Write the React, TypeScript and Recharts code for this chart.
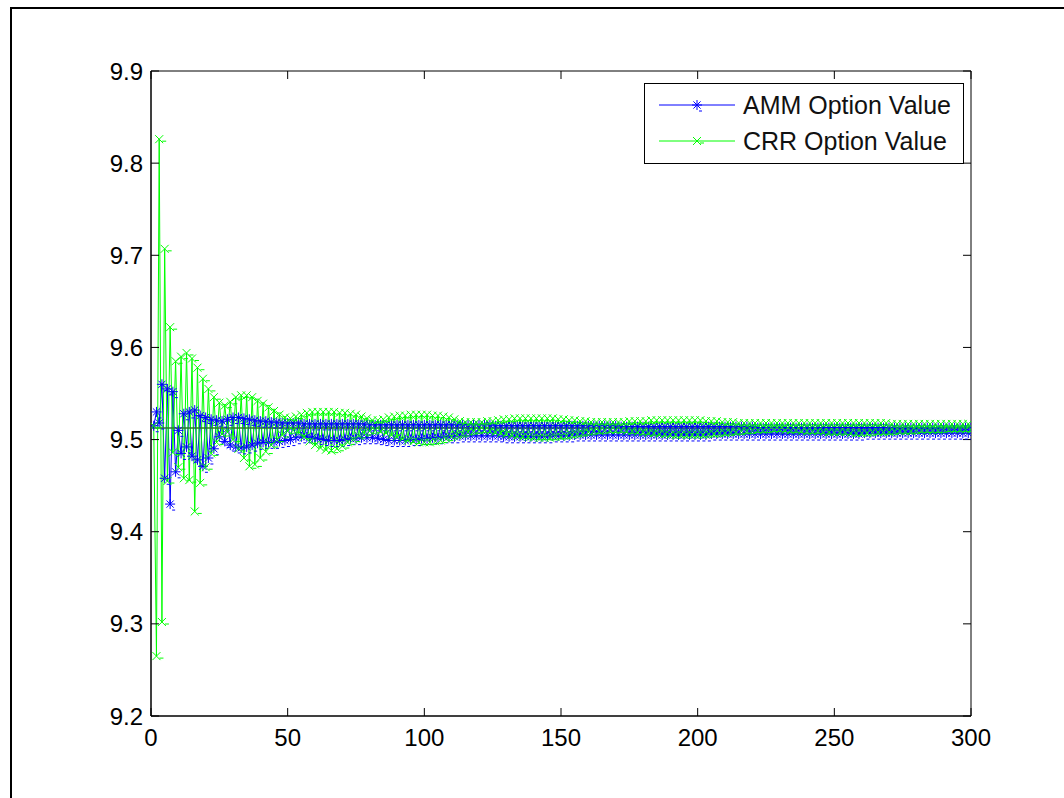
import React from 'react';
import { LineChart, Line, XAxis, YAxis, ReferenceLine } from 'recharts';

// Number of time steps n = 1..300
const steps: number[] = Array.from({ length: 300 }, (_, i) => i + 1);

// AMM option values
const ammValues: number[] = [
  9.515, 9.530, 9.518, 9.560, 9.458, 9.555, 9.430, 9.552, 9.465, 9.510,
  9.485, 9.528, 9.492, 9.530, 9.482, 9.532, 9.478, 9.526, 9.471, 9.524,
  9.480, 9.522, 9.490, 9.521, 9.503, 9.520, 9.498, 9.522, 9.494, 9.524,
  9.492, 9.524, 9.491, 9.523, 9.492, 9.522, 9.494, 9.521, 9.496, 9.520,
  9.497, 9.520, 9.497, 9.519, 9.497, 9.519, 9.498, 9.518, 9.499, 9.518,
  9.500, 9.518, 9.502, 9.518, 9.503, 9.517, 9.503, 9.517, 9.502, 9.517,
  9.501, 9.517, 9.500, 9.517, 9.499, 9.517, 9.499, 9.517, 9.499, 9.517,
  9.500, 9.517, 9.501, 9.517, 9.501, 9.517, 9.502, 9.517, 9.502, 9.516,
  9.502, 9.516, 9.501, 9.516, 9.500, 9.516, 9.499, 9.516, 9.499, 9.516,
  9.499, 9.516, 9.499, 9.516, 9.500, 9.516, 9.500, 9.516, 9.501, 9.516,
  9.501, 9.516, 9.502, 9.516, 9.502, 9.516, 9.503, 9.516, 9.503, 9.516,
  9.503, 9.516, 9.504, 9.516, 9.504, 9.516, 9.504, 9.516, 9.504, 9.516,
  9.504, 9.516, 9.504, 9.516, 9.504, 9.515, 9.504, 9.515, 9.503, 9.515,
  9.503, 9.515, 9.503, 9.515, 9.503, 9.515, 9.503, 9.515, 9.503, 9.515,
  9.503, 9.515, 9.503, 9.515, 9.503, 9.515, 9.504, 9.515, 9.504, 9.515,
  9.504, 9.515, 9.504, 9.515, 9.505, 9.515, 9.505, 9.515, 9.505, 9.515,
  9.505, 9.515, 9.505, 9.515, 9.505, 9.515, 9.505, 9.515, 9.505, 9.515,
  9.505, 9.514, 9.505, 9.514, 9.505, 9.514, 9.505, 9.514, 9.505, 9.514,
  9.505, 9.514, 9.505, 9.514, 9.505, 9.514, 9.505, 9.514, 9.505, 9.514,
  9.505, 9.514, 9.505, 9.514, 9.505, 9.514, 9.505, 9.514, 9.505, 9.514,
  9.505, 9.514, 9.505, 9.514, 9.506, 9.514, 9.506, 9.514, 9.506, 9.514,
  9.506, 9.514, 9.506, 9.514, 9.506, 9.514, 9.506, 9.514, 9.506, 9.514,
  9.506, 9.513, 9.506, 9.513, 9.506, 9.513, 9.506, 9.513, 9.506, 9.513,
  9.506, 9.513, 9.506, 9.513, 9.506, 9.513, 9.506, 9.513, 9.506, 9.513,
  9.506, 9.513, 9.506, 9.513, 9.506, 9.513, 9.506, 9.513, 9.506, 9.513,
  9.506, 9.513, 9.506, 9.513, 9.506, 9.513, 9.506, 9.513, 9.506, 9.513,
  9.507, 9.513, 9.507, 9.513, 9.507, 9.513, 9.507, 9.513, 9.507, 9.513,
  9.507, 9.513, 9.507, 9.513, 9.507, 9.513, 9.507, 9.513, 9.507, 9.513,
  9.507, 9.513, 9.507, 9.513, 9.507, 9.513, 9.507, 9.513, 9.507, 9.513,
  9.507, 9.513, 9.507, 9.513, 9.507, 9.513, 9.507, 9.513, 9.507, 9.513,
];

// CRR option values
const crrValues: number[] = [
  9.515, 9.265, 9.826, 9.302, 9.707, 9.455, 9.622, 9.486, 9.585, 9.470,
  9.590, 9.458, 9.594, 9.456, 9.588, 9.422, 9.578, 9.453, 9.566, 9.470,
  9.555, 9.485, 9.546, 9.497, 9.540, 9.506, 9.537, 9.508, 9.541, 9.500,
  9.546, 9.490, 9.548, 9.480, 9.548, 9.471, 9.546, 9.473, 9.542, 9.480,
  9.539, 9.487, 9.535, 9.494, 9.531, 9.500, 9.527, 9.505, 9.524, 9.509,
  9.523, 9.510, 9.525, 9.507, 9.527, 9.503, 9.529, 9.498, 9.530, 9.494,
  9.530, 9.491, 9.530, 9.489, 9.530, 9.488, 9.530, 9.490, 9.529, 9.493,
  9.529, 9.497, 9.528, 9.500, 9.527, 9.504, 9.525, 9.507, 9.523, 9.509,
  9.521, 9.510, 9.521, 9.509, 9.522, 9.507, 9.524, 9.505, 9.525, 9.503,
  9.526, 9.501, 9.526, 9.499, 9.527, 9.498, 9.527, 9.497, 9.527, 9.497,
  9.527, 9.497, 9.526, 9.498, 9.526, 9.499, 9.525, 9.501, 9.524, 9.503,
  9.522, 9.505, 9.520, 9.506, 9.519, 9.508, 9.519, 9.509, 9.519, 9.510,
  9.519, 9.510, 9.520, 9.509, 9.520, 9.508, 9.521, 9.507, 9.522, 9.506,
  9.522, 9.505, 9.523, 9.504, 9.523, 9.503, 9.523, 9.503, 9.523, 9.502,
  9.523, 9.502, 9.523, 9.502, 9.523, 9.502, 9.523, 9.503, 9.522, 9.503,
  9.522, 9.504, 9.521, 9.505, 9.521, 9.506, 9.520, 9.507, 9.520, 9.508,
  9.519, 9.509, 9.519, 9.509, 9.519, 9.510, 9.519, 9.510, 9.519, 9.510,
  9.519, 9.510, 9.519, 9.509, 9.520, 9.509, 9.520, 9.508, 9.520, 9.508,
  9.520, 9.507, 9.521, 9.507, 9.521, 9.506, 9.521, 9.506, 9.521, 9.505,
  9.521, 9.505, 9.521, 9.505, 9.521, 9.505, 9.521, 9.505, 9.521, 9.505,
  9.521, 9.505, 9.520, 9.506, 9.520, 9.506, 9.520, 9.507, 9.519, 9.507,
  9.519, 9.508, 9.519, 9.508, 9.518, 9.509, 9.518, 9.509, 9.518, 9.510,
  9.518, 9.510, 9.518, 9.510, 9.518, 9.511, 9.518, 9.511, 9.518, 9.511,
  9.518, 9.510, 9.518, 9.510, 9.518, 9.510, 9.518, 9.509, 9.518, 9.509,
  9.518, 9.509, 9.518, 9.509, 9.518, 9.508, 9.518, 9.508, 9.518, 9.508,
  9.518, 9.508, 9.518, 9.508, 9.518, 9.507, 9.518, 9.507, 9.518, 9.507,
  9.518, 9.507, 9.518, 9.508, 9.518, 9.508, 9.518, 9.508, 9.518, 9.508,
  9.517, 9.509, 9.517, 9.509, 9.517, 9.509, 9.517, 9.509, 9.517, 9.510,
  9.517, 9.510, 9.517, 9.510, 9.517, 9.510, 9.517, 9.510, 9.517, 9.511,
  9.517, 9.511, 9.517, 9.511, 9.517, 9.511, 9.517, 9.511, 9.517, 9.511,
];

// Black-Scholes reference value (dark green horizontal line)
const bsValue = 9.5125;

const xTicks: number[] = [0, 50, 100, 150, 200, 250, 300];
const yTicks: number[] = [9.2, 9.3, 9.4, 9.5, 9.6, 9.7, 9.8, 9.9];

const seriesNames = ['AMM Option Value', 'CRR Option Value'];

const data = steps.map((n, i) => ({ n, amm: ammValues[i], crr: crrValues[i] }));

const BLUE = '#0000ff';
const GREEN = '#00ff00';
const FONT = '"Liberation Sans", Arial, Helvetica, sans-serif';

const Asterisk = ({ cx, cy, r = 5 }: { cx: number; cy: number; r?: number }) => {
  const d = r * 0.72;
  return (
    <g stroke={BLUE} strokeWidth={1} fill="none">
      <line x1={cx - r} y1={cy} x2={cx + r} y2={cy} />
      <line x1={cx} y1={cy - r} x2={cx} y2={cy + r} />
      <line x1={cx - d} y1={cy - d} x2={cx + d} y2={cy + d} />
      <line x1={cx - d} y1={cy + d} x2={cx + d} y2={cy - d} />
      <line x1={cx + 2} y1={cy + r + 1} x2={cx + 5} y2={cy + r + 1} />
    </g>
  );
};

const Cross = ({ cx, cy, r = 4 }: { cx: number; cy: number; r?: number }) => (
  <g stroke={GREEN} strokeWidth={1} fill="none">
    <line x1={cx - r} y1={cy - r} x2={cx + r} y2={cy + r} />
    <line x1={cx - r} y1={cy + r} x2={cx + r} y2={cy - r} />
    <line x1={cx + 3} y1={cy + 2} x2={cx + 7} y2={cy + 2} />
  </g>
);

const renderAsterisk = (p: any) => {
  if (p.cx == null || p.cy == null) return <g key={`a-${p.index}`} />;
  return <Asterisk key={`a-${p.index}`} cx={p.cx} cy={p.cy} />;
};
const renderCross = (p: any) => {
  if (p.cx == null || p.cy == null) return <g key={`c-${p.index}`} />;
  return <Cross key={`c-${p.index}`} cx={p.cx} cy={p.cy} />;
};
const renderNoLabel = (p: any) => <g key={`t-${p.index}-${p.payload?.value}`} />;

export default function App() {
  const tickStyle = { fill: '#000', fontSize: 24, fontFamily: FONT };
  const black = { stroke: '#000' };
  return (
    <div
      style={{
        position: 'fixed',
        left: 0,
        top: 0,
        width: 1064,
        height: 798,
        background: '#fff',
        overflow: 'hidden',
      }}
    >
      {/* outer figure frame */}
      <div
        style={{
          position: 'absolute',
          left: 10,
          top: 7,
          width: 1200,
          height: 1000,
          borderLeft: '2px solid #000',
          borderTop: '2px solid #000',
        }}
      />
      <div style={{ position: 'absolute', left: 0, top: 0 }}>
        <LineChart
          width={1064}
          height={798}
          data={data}
          margin={{ top: 71, right: 93, bottom: 0, left: 0 }}
        >
          {/* bottom axis: labels */}
          <XAxis
            xAxisId="b"
            dataKey="n"
            type="number"
            domain={[0, 300]}
            ticks={xTicks}
            interval={0}
            allowDataOverflow
            height={82}
            tickSize={0}
            tickMargin={13}
            tick={tickStyle}
            tickLine={false}
            axisLine={black}
          />
          {/* bottom axis: inward tick marks */}
          <XAxis
            xAxisId="bm"
            orientation="bottom"
            mirror
            dataKey="n"
            type="number"
            domain={[0, 300]}
            ticks={xTicks}
            interval={0}
            allowDataOverflow
            tickSize={8}
            tick={renderNoLabel}
            tickLine={black}
            axisLine={black}
          />
          {/* top axis: inward tick marks */}
          <XAxis
            xAxisId="t"
            orientation="top"
            mirror
            dataKey="n"
            type="number"
            domain={[0, 300]}
            ticks={xTicks}
            interval={0}
            allowDataOverflow
            tickSize={8}
            tick={renderNoLabel}
            tickLine={black}
            axisLine={black}
          />
          {/* left axis: labels */}
          <YAxis
            yAxisId="l"
            type="number"
            domain={[9.2, 9.9]}
            ticks={yTicks}
            interval={0}
            allowDataOverflow
            width={151}
            tickSize={0}
            tickMargin={8}
            tick={tickStyle}
            tickLine={false}
            tickFormatter={(v: number) => v.toFixed(1)}
            axisLine={black}
          />
          {/* left axis: inward tick marks */}
          <YAxis
            yAxisId="lm"
            orientation="left"
            mirror
            type="number"
            domain={[9.2, 9.9]}
            ticks={yTicks}
            interval={0}
            allowDataOverflow
            tickSize={8}
            tick={renderNoLabel}
            tickLine={black}
            axisLine={black}
          />
          {/* right axis: inward tick marks */}
          <YAxis
            yAxisId="r"
            orientation="right"
            mirror
            type="number"
            domain={[9.2, 9.9]}
            ticks={yTicks}
            interval={0}
            allowDataOverflow
            tickSize={8}
            tick={renderNoLabel}
            tickLine={black}
            axisLine={black}
          />
          <Line
            xAxisId="b"
            yAxisId="l"
            dataKey="amm"
            name={seriesNames[0]}
            type="linear"
            stroke={BLUE}
            strokeWidth={1}
            dot={renderAsterisk}
            activeDot={false}
            isAnimationActive={false}
          />
          <Line
            xAxisId="b"
            yAxisId="l"
            dataKey="crr"
            name={seriesNames[1]}
            type="linear"
            stroke={GREEN}
            strokeWidth={1}
            dot={renderCross}
            activeDot={false}
            isAnimationActive={false}
          />
          <ReferenceLine
            xAxisId="b"
            yAxisId="l"
            y={bsValue}
            stroke="#2a7a2a"
            strokeWidth={1.5}
          />
        </LineChart>
      </div>
      {/* legend */}
      <div
        style={{
          position: 'absolute',
          left: 644,
          top: 83,
          width: 318,
          height: 79,
          border: '1px solid #000',
          background: '#fff',
          fontFamily: FONT,
          fontSize: 25,
          color: '#111',
        }}
      >
        {seriesNames.map((name, i) => (
          <div
            key={name}
            style={{
              position: 'absolute',
              left: 0,
              top: i === 0 ? 6 : 42,
              height: 30,
              width: 318,
            }}
          >
            <svg
              width={90}
              height={30}
              style={{ position: 'absolute', left: 14, top: 0 }}
            >
              <line
                x1={0}
                y1={15}
                x2={76}
                y2={15}
                stroke={i === 0 ? BLUE : GREEN}
                strokeWidth={1}
              />
              {i === 0 ? <Asterisk cx={38} cy={15} /> : <Cross cx={38} cy={15} />}
            </svg>
            <span
              style={{
                position: 'absolute',
                left: 98,
                top: 0,
                lineHeight: '30px',
                whiteSpace: 'nowrap',
              }}
            >
              {name}
            </span>
          </div>
        ))}
      </div>
    </div>
  );
}
